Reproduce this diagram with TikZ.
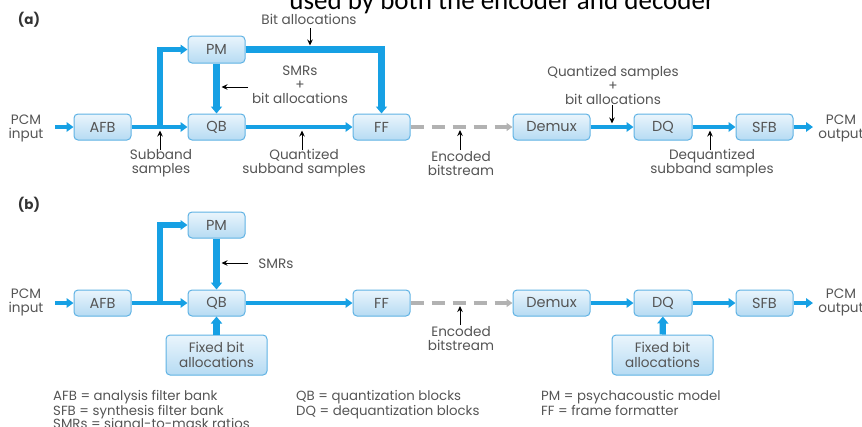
\documentclass[tikz,border=0pt]{standalone}
\usepackage{fontspec}
\usetikzlibrary{arrows.meta}
\newfontfamily\geo{Poppins}
\newfontfamily\headfont{Carlito}
\definecolor{flowblue}{RGB}{22,160,228}
\definecolor{boxedge}{RGB}{95,178,228}
\definecolor{boxtop}{RGB}{234,245,252}
\definecolor{boxbot}{RGB}{182,219,243}
\definecolor{txt}{RGB}{85,85,85}
\definecolor{streamgray}{RGB}{178,178,178}

\begin{document}
\begin{tikzpicture}[x=1pt,y=-1pt,
  blk/.style={draw=boxedge,line width=1pt,rounded corners=4pt,
    top color=boxtop,bottom color=boxbot,minimum width=57pt,
    minimum height=26pt,inner sep=0pt,text=txt,
    font=\geo\fontsize{14.5}{16}\selectfont},
  lbl/.style={text=txt,align=center,inner sep=0pt,
    font=\geo\fontsize{13.6}{14}\selectfont},
  legend/.style={text=txt,anchor=base west,inner sep=0pt,
    font=\geo\fontsize{13.3}{14}\selectfont},
  part/.style={text=black!80,inner sep=0pt,
    font=\geo\bfseries\fontsize{13.5}{15}\selectfont},
  flow/.style={draw=flowblue,line width=4.5pt,
    -{Triangle[length=7pt,width=9.5pt]}},
  thickflow/.style={draw=flowblue,line width=6.3pt,
    -{Triangle[length=7pt,width=11pt]}},
  stream/.style={draw=streamgray,line width=3.5pt,
    dash pattern=on 13pt off 8pt,-{Triangle[length=6pt,width=8pt]}},
  note/.style={draw=black,line width=0.9pt,
    -{Stealth[length=6pt,width=5.5pt]}}]
\useasboundingbox (0,0) rectangle (862,426);
\clip (0,0) rectangle (862,426);

% caption line running off the top edge
\node[anchor=base,inner sep=0pt,font=\headfont\fontsize{27}{29}\selectfont]
  (head) at (502,9) {used by both the encoder and decoder};

% ---------------- (a) ----------------
\node[part] (pa) at (29,20) {(a)};
\node[blk] (AFBa) at (102.5,127) {AFB};
\node[blk] (QBa) at (216.5,127) {QB};
\node[blk,minimum height=27pt] (PMa) at (216.5,49.5) {PM};
\node[blk] (FFa) at (381.5,127) {FF};
\node[blk,minimum width=77pt] (DMa) at (551.5,127) {Demux};
\node[blk,minimum width=58pt] (DQa) at (663,127) {DQ};
\node[blk] (SFBa) at (764.5,127) {SFB};

\node[lbl] (ina) at (26,128) {PCM\\input};
\node[lbl] (outa) at (841,128) {PCM\\output};
\coordinate (inAa) at (55,127);
\coordinate (outAa) at (813,127);
\coordinate (brA) at (160,127);

\draw[flow] (inAa) -- (AFBa);
\draw[flow] (AFBa) -- (QBa);
\draw[flow,line width=5.5pt] (brA) |- (PMa.west);
\draw[thickflow] (PMa) -- (QBa);
\draw[thickflow] (PMa.east) -| (FFa.north);
\draw[flow] (QBa) -- (FFa);
\draw[stream] (FFa) -- (DMa);
\draw[flow] (DMa) -- (DQa);
\draw[flow] (DQa) -- (SFBa);
\draw[flow] (SFBa) -- (outAa);

% annotations of (a)
\node[lbl] (tBit) at (309,19) {Bit allocations};
\coordinate (tBit1) at (310,28); \coordinate (tBit2) at (310,45.5);
\draw[note] (tBit1) -- (tBit2);

\node[lbl] (tSmr) at (300,85) {SMRs\\+\\bit allocations};
\coordinate (tSmr1) at (248,87); \coordinate (tSmr2) at (221.5,87);
\draw[note] (tSmr1) -- (tSmr2);

\node[lbl] (tSub) at (161,163.5) {Subband\\samples};
\coordinate (tSub1) at (160,150); \coordinate (tSub2) at (160,130.5);
\draw[note] (tSub1) -- (tSub2);

\node[lbl] (tQs) at (304,163.5) {Quantized\\subband samples};
\coordinate (tQs1) at (302,150); \coordinate (tQs2) at (302,130.5);
\draw[note] (tQs1) -- (tQs2);

\node[lbl] (tEnc) at (461,164) {Encoded\\bitstream};
\coordinate (tEnc1) at (460,150); \coordinate (tEnc2) at (460,130);
\draw[note] (tEnc1) -- (tEnc2);

\node[lbl] (tQsb) at (613,85) {Quantized samples\\+\\bit allocations};
\coordinate (tQsb1) at (612,105); \coordinate (tQsb2) at (612,123.5);
\draw[note] (tQsb1) -- (tQsb2);

\node[lbl] (tDq) at (712,163.5) {Dequantized\\subband samples};
\coordinate (tDq1) at (710,150); \coordinate (tDq2) at (710,130.5);
\draw[note] (tDq1) -- (tDq2);

% ---------------- (b) ----------------
\node[part] (pb) at (29,205) {(b)};
\node[blk] (AFBb) at (102.5,303) {AFB};
\node[blk] (QBb) at (216.5,303) {QB};
\node[blk] (PMb) at (216.5,225) {PM};
\node[blk] (FFb) at (381.5,303) {FF};
\node[blk,minimum width=77pt] (DMb) at (551.5,303) {Demux};
\node[blk,minimum width=58pt] (DQb) at (663,303) {DQ};
\node[blk] (SFBb) at (764.5,303) {SFB};
\node[blk,minimum width=101pt,minimum height=40pt,align=center,
  font=\geo\fontsize{13.6}{14.5}\selectfont] (FXq) at (216.5,355) {Fixed bit\\allocations};
\node[blk,minimum width=101pt,minimum height=40pt,align=center,
  font=\geo\fontsize{13.6}{14.5}\selectfont] (FXd) at (662.5,355) {Fixed bit\\allocations};

\node[lbl] (inb) at (26,302) {PCM\\input};
\node[lbl] (outb) at (841,302) {PCM\\output};
\coordinate (inBb) at (55,303);
\coordinate (outBb) at (813,303);
\coordinate (brB) at (160,303);

\draw[flow] (inBb) -- (AFBb);
\draw[flow] (AFBb) -- (QBb);
\draw[flow,line width=5.5pt] (brB) |- (PMb.west);
\draw[thickflow] (PMb) -- (QBb);
\draw[thickflow] (FXq) -- (QBb);
\draw[flow] (QBb) -- (FFb);
\draw[stream] (FFb) -- (DMb);
\draw[flow] (DMb) -- (DQb);
\draw[thickflow] (FXd) -- (DQb);
\draw[flow] (DQb) -- (SFBb);
\draw[flow] (SFBb) -- (outBb);

% annotations of (b)
\node[lbl] (tSmrb) at (276,264) {SMRs};
\coordinate (tSmrb1) at (248,263); \coordinate (tSmrb2) at (221.5,263);
\draw[note] (tSmrb1) -- (tSmrb2);

\node[lbl] (tEncb) at (461,339) {Encoded\\bitstream};
\coordinate (tEncb1) at (460,325); \coordinate (tEncb2) at (460,306);
\draw[note] (tEncb1) -- (tEncb2);

% ---------------- key ----------------
\node[legend] (k1) at (53,400.5) {AFB = analysis filter bank};
\node[legend] (k2) at (53,415) {SFB = synthesis filter bank};
\node[legend] (k3) at (53,428.5) {SMRs = signal-to-mask ratios};
\node[legend] (k4) at (296,400.5) {QB = quantization blocks};
\node[legend] (k5) at (296,415) {DQ = dequantization blocks};
\node[legend] (k6) at (541,400.5) {PM = psychacoustic model};
\node[legend] (k7) at (541,415) {FF = frame formatter};
\end{tikzpicture}
\end{document}
